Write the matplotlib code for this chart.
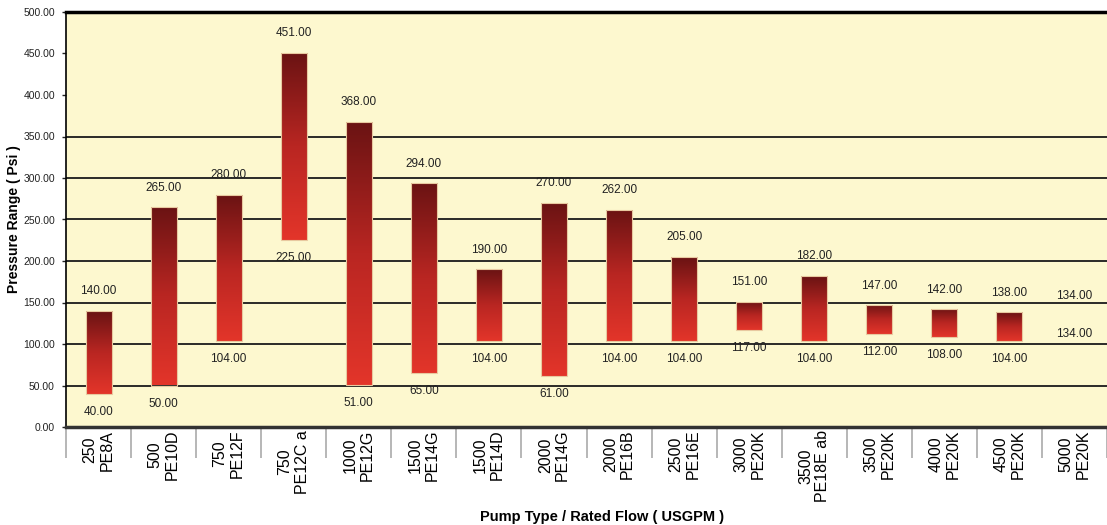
import matplotlib
matplotlib.use("Agg")
import matplotlib.pyplot as plt
import numpy as np
from matplotlib.colors import LinearSegmentedColormap

plt.rcParams['font.family'] = ['Liberation Sans', 'DejaVu Sans']

# data
flows = ["250", "500", "750", "750", "1000", "1500", "1500", "2000", "2000",
         "2500", "3000", "3500", "3500", "4000", "4500", "5000"]
pumps = ["PE8A", "PE10D", "PE12F", "PE12C a", "PE12G", "PE14G", "PE14D", "PE14G",
         "PE16B", "PE16E", "PE20K", "PE18E ab", "PE20K", "PE20K", "PE20K", "PE20K"]
low_psi = [40, 50, 104, 225, 51, 65, 104, 61, 104, 104, 117, 104, 112, 108, 104, 134]
high_psi = [140, 265, 280, 451, 368, 294, 190, 270, 262, 205, 151, 182, 147, 142, 138, 134]

labels = [f"{f}\n{p}" for f, p in zip(flows, pumps)]
x = np.arange(len(labels))
low = np.array(low_psi)
high = np.array(high_psi)

fig = plt.figure(figsize=(11.07, 5.25), dpi=100)
ax = fig.add_axes([66 / 1107, 1 - 427 / 525, 1 - 66 / 1107, (427 - 12) / 525])
ax.set_facecolor("#fdf8cf")

# grid lines (only up to 350 in the original)
for g in range(50, 400, 50):
    ax.axhline(g, color="#1a1a1a", lw=1.3, zorder=1)

cmap = LinearSegmentedColormap.from_list("red", ["#e3352a", "#b92622", "#6a1313"])
grad = np.linspace(0, 1, 256).reshape(-1, 1)

edges = ["#e8c9a0" if h > l else "none" for l, h in zip(low, high)]
bars = ax.bar(x, high - low, bottom=low, width=0.4, color="none",
              edgecolor=edges, lw=0.8, zorder=3)
for b in bars:
    if b.get_height() <= 0:
        continue
    x0, y0 = b.get_x(), b.get_y()
    im = ax.imshow(grad, cmap=cmap, aspect="auto", origin="lower",
                   extent=[x0, x0 + b.get_width(), y0, y0 + b.get_height()], zorder=2)
    im.set_clip_path(b)

ax.set_xlim(-0.5, 15.35)
ax.set_ylim(0, 500)

for xi, lo, hi in zip(x, low, high):
    ax.annotate(f"{hi:.2f}", (xi, hi), xytext=(0, 14), textcoords="offset points",
                ha="center", va="center", fontsize=8.5, color="#222222")
    ax.annotate(f"{lo:.2f}", (xi, lo), xytext=(0, -13), textcoords="offset points",
                ha="center", va="center", fontsize=8.5, color="#222222")

ax.set_yticks(np.arange(0, 501, 50))
ax.set_yticklabels([f"{v:.2f}" for v in np.arange(0, 501, 50)], fontsize=7.5, color="#222222")
ax.tick_params(axis="y", length=3, width=1, color="#222222", pad=5)

ax.set_xticks(x)
ax.set_xticklabels(labels, rotation=90, fontsize=11.5, va="top", ha="center",
                   multialignment="center")
ax.tick_params(axis="x", length=0, pad=2)
ax.set_xticks(np.arange(-0.5, 16, 1), minor=True)
ax.tick_params(axis="x", which="minor", length=22, color="#aaaaaa", width=1.2)

ax.spines["right"].set_visible(False)
ax.spines["top"].set_linewidth(2.5)
ax.spines["bottom"].set_linewidth(2.5)
ax.spines["bottom"].set_color("#333333")
ax.spines["left"].set_linewidth(1.2)

ax.set_ylabel("Pressure Range ( Psi )", fontsize=10, fontweight="bold")
ax.yaxis.set_label_coords(-0.043, 0.5)
ax.set_xlabel("Pump Type / Rated Flow ( USGPM )", fontsize=10.5, fontweight="bold")
ax.xaxis.set_label_coords(0.515, -0.2)

fig.savefig("out.png", dpi=100)
